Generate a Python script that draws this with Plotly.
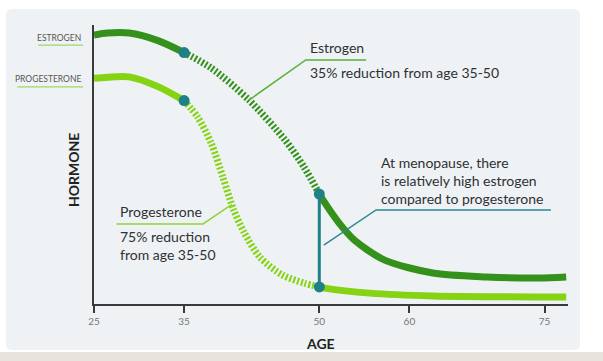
import plotly.graph_objects as go

# ---------------- data ----------------
estrogen_age = [25, 26.5, 28.9, 32.1, 35, 38.0, 42.2, 46.2, 48.3, 50,
                50.4, 52.2, 53.9, 57.2, 62.6, 68.5, 74.4, 77.4]
estrogen_level = [96.4, 97.1, 97.1, 94.4, 90.1, 84.6, 73.1, 58.8, 49.1, 39.4,
                  37.3, 29.0, 22.9, 15.8, 11.1, 9.7, 9.3, 9.7]

progesterone_age = [25, 26.5, 28.9, 32.1, 35, 36.5, 38.0, 39.3, 40.5, 41.7,
                    43.4, 45.9, 48.3, 50, 50.6, 55.6, 62.6, 77.4]
progesterone_level = [80.9, 81.3, 81.4, 77.9, 72.9, 67.0, 57.7, 45.5, 33.7, 25.4,
                      16.8, 10.4, 7.5, 6.1, 5.7, 3.9, 2.9, 2.5]

decline_start_age = 35
menopause_age = 50
age_ticks = [25, 35, 50, 60, 75]

# ---------------- styles ----------------
FONT = "Lato, 'Open Sans', sans-serif"
EST_COLOR = "#34911c"
PRO_COLOR = "#84d414"
TEAL = "#1f8185"
TEXT = "#2e3134"
PANEL = "#eff2f4"


def split(ages, levels):
    pre = [(a, v) for a, v in zip(ages, levels) if a <= decline_start_age]
    mid = [(a, v) for a, v in zip(ages, levels) if decline_start_age <= a <= menopause_age]
    post = [(a, v) for a, v in zip(ages, levels) if a >= menopause_age]
    return pre, mid, post


def at(ages, levels, age):
    return levels[ages.index(age)]


fig = go.Figure()

for ages, levels, color in [(estrogen_age, estrogen_level, EST_COLOR),
                            (progesterone_age, progesterone_level, PRO_COLOR)]:
    pre, mid, post = split(ages, levels)
    for seg, dash in [(pre, "solid"), (mid, "2px,2px"), (post, "solid")]:
        fig.add_trace(go.Scatter(
            x=[p[0] for p in seg], y=[p[1] for p in seg], mode="lines",
            line=dict(color=color, width=7, dash=dash, shape="spline", smoothing=0.8),
            hoverinfo="skip", showlegend=False))

# vertical menopause connector
e50 = at(estrogen_age, estrogen_level, menopause_age)
p50 = at(progesterone_age, progesterone_level, menopause_age)
fig.add_trace(go.Scatter(x=[menopause_age, menopause_age], y=[e50, p50], mode="lines",
                         line=dict(color=TEAL, width=3), hoverinfo="skip", showlegend=False))

# teal dots
dot_x, dot_y = [], []
for ages, levels in [(estrogen_age, estrogen_level), (progesterone_age, progesterone_level)]:
    for a in (decline_start_age, menopause_age):
        dot_x.append(a)
        dot_y.append(at(ages, levels, a))
fig.add_trace(go.Scatter(x=dot_x, y=dot_y, mode="markers",
                         marker=dict(color=TEAL, size=11, line=dict(width=0)),
                         hoverinfo="skip", showlegend=False, cliponaxis=False))

# ---------------- background panel ----------------
x0, x1, y0, y1 = -0.1857, 1.0253, -0.1649, 1.0573
rx, ry = 0.0127, 0.0215
panel_path = (f"M {x0+rx},{y1} L {x1-rx},{y1} Q {x1},{y1} {x1},{y1-ry} "
              f"L {x1},{y0+ry} Q {x1},{y0} {x1-rx},{y0} L {x0+rx},{y0} "
              f"Q {x0},{y0} {x0},{y0+ry} L {x0},{y1-ry} Q {x0},{y1} {x0+rx},{y1} Z")
shapes = [
    dict(type="path", xref="paper", yref="paper", path=panel_path,
         fillcolor=PANEL, line=dict(width=0), layer="below"),
    dict(type="rect", xref="paper", yref="paper", x0=-0.3, x1=1.2, y0=-0.2043, y1=-0.172,
         fillcolor="#e6e4dd", line=dict(width=0), layer="below"),
    # axis label underlines
    dict(type="line", xref="paper", yref="paper", x0=-0.118, x1=-0.023, y0=0.928, y1=0.928,
         line=dict(color="#9bd86a", width=1.2)),
    dict(type="line", xref="paper", yref="paper", x0=-0.162, x1=-0.023, y0=0.778, y1=0.778,
         line=dict(color="#9bd86a", width=1.2)),
    # callout leaders
    dict(type="path", xref="x", yref="y", path="M 55.2,87.5 L 48.5,87.5 L 42.2,73.1",
         line=dict(color="#5aae3c", width=1.5)),
    dict(type="path", xref="x", yref="y", path="M 75.7,33.7 L 56.3,33.7 L 50.5,21.1",
         line=dict(color="#2a8a90", width=1.5)),
    dict(type="path", xref="x", yref="y", path="M 27.5,28.7 L 37.1,28.7 L 40.3,35.7",
         line=dict(color="#8fd43a", width=1.5)),
]

annotations = [
    dict(xref="paper", yref="paper", x=-0.023, y=0.953, text="ESTROGEN", showarrow=False,
         xanchor="right", yanchor="middle", font=dict(family=FONT, size=8.5, color="#555")),
    dict(xref="paper", yref="paper", x=-0.023, y=0.806, text="PROGESTERONE", showarrow=False,
         xanchor="right", yanchor="middle", font=dict(family=FONT, size=8.5, color="#555")),
    dict(xref="paper", yref="paper", x=-0.0443, y=0.48, text="<b>HORMONE</b>", textangle=-90,
         showarrow=False, xanchor="center", yanchor="middle",
         font=dict(family=FONT, size=14, color="#222")),
    dict(xref="paper", yref="paper", x=0.477, y=-0.14, text="<b>AGE</b>", showarrow=False,
         xanchor="center", yanchor="middle", font=dict(family=FONT, size=14, color="#222")),
    dict(xref="x", yref="y", x=48.8, y=91.8, text="Estrogen", showarrow=False,
         xanchor="left", yanchor="middle", font=dict(family=FONT, size=14, color=TEXT)),
    dict(xref="x", yref="y", x=48.8, y=82.8, text="35% reduction from age 35-50", showarrow=False,
         xanchor="left", yanchor="middle", font=dict(family=FONT, size=14, color=TEXT)),
    dict(xref="x", yref="y", x=56.6, y=44.4,
         text="At menopause, there<br>is relatively high estrogen<br>compared to progesterone",
         showarrow=False, xanchor="left", yanchor="middle", align="left",
         font=dict(family=FONT, size=14, color=TEXT)),
    dict(xref="x", yref="y", x=27.65, y=33.0, text="Progesterone", showarrow=False,
         xanchor="left", yanchor="middle", font=dict(family=FONT, size=14, color=TEXT)),
    dict(xref="x", yref="y", x=27.65, y=21.1, text="75% reduction<br>from age 35-50",
         showarrow=False, xanchor="left", yanchor="middle", align="left",
         font=dict(family=FONT, size=14, color=TEXT)),
]

fig.update_layout(
    width=603, height=361,
    margin=dict(l=94, r=35, t=25, b=57),
    paper_bgcolor="white", plot_bgcolor="rgba(0,0,0,0)",
    font=dict(family=FONT),
    shapes=shapes, annotations=annotations,
    xaxis=dict(range=[25, 77.6], tickvals=age_ticks, ticks="outside", ticklen=7,
               tickwidth=1.5, tickcolor="#3a3a3a", showline=True, linecolor="#3a3a3a",
               linewidth=1.5, showgrid=False, zeroline=False,
               tickfont=dict(family=FONT, size=10, color="#777")),
    yaxis=dict(range=[0, 100], showticklabels=False, ticks="", showline=True,
               linecolor="#3a3a3a", linewidth=1.5, showgrid=False, zeroline=False),
)

fig.write_html("out.html", config={"displayModeBar": False},
               post_script="document.body.style.margin='0';")
